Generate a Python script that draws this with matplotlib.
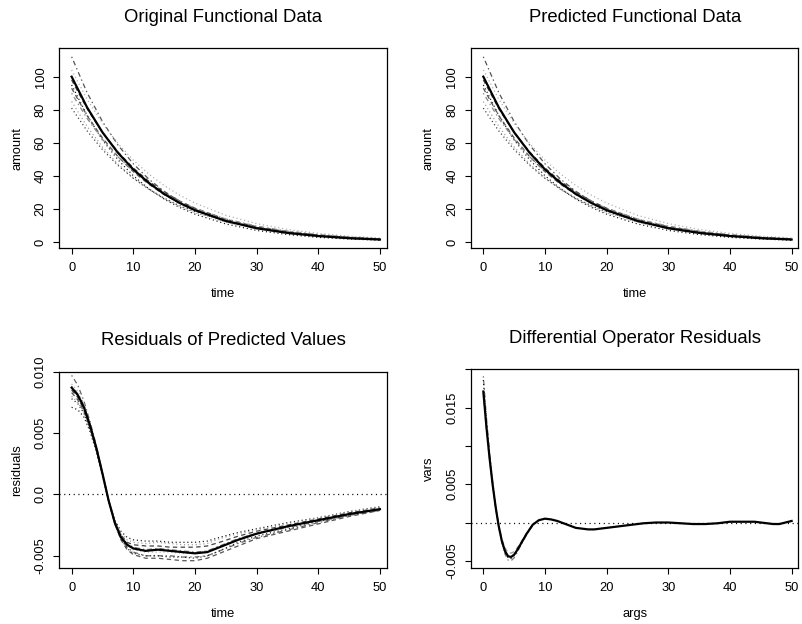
import matplotlib
matplotlib.use('Agg')
import matplotlib.pyplot as plt

plt.rcParams['font.family'] = ['Liberation Sans', 'DejaVu Sans']
plt.rcParams['lines.scale_dashes'] = False

# ---- top panels: amount vs time (original / predicted look the same at this scale)
time_grid = [0, 2.5, 5, 7.5, 10, 12.5, 15, 17.5, 20, 25, 30, 35, 40, 45, 50]
amt_a = [112, 90.4, 72.9, 58.8, 47.4, 38.2, 30.8, 24.9, 20.0, 13.0, 8.5, 5.5, 3.6, 2.3, 1.5]
amt_b = [104, 86.4, 71.9, 59.7, 49.6, 41.3, 34.3, 28.5, 23.7, 16.3, 11.3, 7.8, 5.4, 3.7, 2.6]
amt_mean = [100, 81.5, 66.4, 54.1, 44.0, 35.9, 29.2, 23.8, 19.4, 12.9, 8.5, 5.7, 3.8, 2.5, 1.7]
amt_c = [98, 80.7, 66.3, 54.6, 44.9, 36.9, 30.4, 25.0, 20.6, 13.9, 9.4, 6.4, 4.3, 2.9, 2.0]
amt_d = [95, 76.7, 61.8, 49.9, 40.2, 32.4, 26.1, 21.1, 17.0, 11.1, 7.2, 4.7, 3.0, 2.0, 1.3]
amt_e = [93, 76.5, 63.0, 51.8, 42.6, 35.1, 28.8, 23.7, 19.5, 13.2, 9.0, 6.1, 4.1, 2.8, 1.9]
amt_f = [90, 74.8, 62.2, 51.7, 42.9, 35.7, 29.7, 24.7, 20.5, 14.1, 9.8, 6.8, 4.7, 3.2, 2.2]
amt_g = [85, 70.0, 57.5, 47.3, 38.9, 32.0, 26.4, 21.7, 17.9, 12.1, 8.2, 5.5, 3.8, 2.5, 1.7]
amt_h = [81, 67.3, 56.0, 46.5, 38.6, 32.2, 26.7, 22.2, 18.5, 12.7, 8.8, 6.1, 4.2, 2.9, 2.0]

# ---- bottom left: residuals of predicted values
res_time = [0, 1, 2, 3, 4, 5, 6, 7, 8, 9, 10, 12, 14, 16, 18, 20, 22, 24, 27, 30, 35, 40, 45, 50]
res_mean = [0.0087, 0.0081, 0.0071, 0.0056, 0.0038, 0.0017, -0.0005, -0.0023, -0.0035, -0.0041, -0.0044,
            -0.0046, -0.0045, -0.0046, -0.0047, -0.0048, -0.0047, -0.0043, -0.0037, -0.0032,
            -0.0026, -0.0021, -0.0016, -0.0012]
res_1 = [0.0097, 0.0089, 0.0076, 0.0059, 0.0040, 0.0018, -0.0005, -0.0024, -0.0036, -0.0043, -0.0047,
         -0.0050, -0.0050, -0.0050, -0.0051, -0.0051, -0.0050, -0.0046, -0.0040, -0.0035,
         -0.0029, -0.0023, -0.0017, -0.0013]
res_2 = [0.0071, 0.0069, 0.0063, 0.0051, 0.0035, 0.0015, -0.0005, -0.0021, -0.0030, -0.0035, -0.0037,
         -0.0038, -0.0038, -0.0039, -0.0039, -0.0039, -0.0038, -0.0035, -0.0031, -0.0028,
         -0.0023, -0.0019, -0.0014, -0.0010]
res_3 = [0.0085, 0.0079, 0.0069, 0.0054, 0.0037, 0.0016, -0.0005, -0.0022, -0.0033, -0.0039, -0.0041,
         -0.0042, -0.0042, -0.0043, -0.0043, -0.0043, -0.0042, -0.0039, -0.0034, -0.0030,
         -0.0025, -0.0020, -0.0015, -0.0011]
res_4 = [0.0090, 0.0084, 0.0074, 0.0058, 0.0040, 0.0018, -0.0004, -0.0022, -0.0034, -0.0041, -0.0045,
         -0.0047, -0.0047, -0.0047, -0.0048, -0.0048, -0.0046, -0.0042, -0.0036, -0.0031,
         -0.0026, -0.0021, -0.0016, -0.0011]
res_5 = [0.0083, 0.0077, 0.0068, 0.0054, 0.0037, 0.0017, -0.0005, -0.0024, -0.0037, -0.0045, -0.0049,
         -0.0052, -0.0052, -0.0053, -0.0054, -0.0054, -0.0052, -0.0048, -0.0042, -0.0036,
         -0.0030, -0.0024, -0.0018, -0.0013]
res_6 = [0.0078, 0.0074, 0.0066, 0.0053, 0.0036, 0.0016, -0.0005, -0.0023, -0.0036, -0.0044, -0.0048,
         -0.0050, -0.0050, -0.0051, -0.0051, -0.0052, -0.0050, -0.0046, -0.0039, -0.0034,
         -0.0028, -0.0022, -0.0017, -0.0012]
res_7 = [0.0088, 0.0082, 0.0072, 0.0057, 0.0039, 0.0017, -0.0005, -0.0023, -0.0034, -0.0040, -0.0043,
         -0.0045, -0.0044, -0.0045, -0.0046, -0.0047, -0.0046, -0.0042, -0.0036, -0.0032,
         -0.0027, -0.0022, -0.0017, -0.0012]
res_8 = [0.0080, 0.0075, 0.0067, 0.0053, 0.0036, 0.0016, -0.0005, -0.0022, -0.0032, -0.0037, -0.0039,
         -0.0040, -0.0039, -0.0040, -0.0041, -0.0041, -0.0040, -0.0036, -0.0032, -0.0029,
         -0.0024, -0.0019, -0.0014, -0.0010]

# ---- bottom right: differential operator residuals
dv_args = [0, 0.5, 1, 1.5, 2, 2.5, 3, 3.5, 4, 4.5, 5, 5.5, 6, 7, 8, 9, 10, 11, 12, 13, 14, 15, 16, 17, 18,
           20, 22, 24, 26, 28, 30, 32, 34, 36, 38, 40, 42, 44, 46, 47, 48, 50]
dv_mean = [0.0171, 0.0125, 0.0085, 0.0050, 0.0020, -0.0005, -0.0024, -0.0037, -0.0044, -0.0045, -0.0042,
           -0.0036, -0.0029, -0.0015, -0.0003, 0.0003, 0.0005, 0.0004, 0.0002, -0.0001, -0.0004, -0.0007,
           -0.0008, -0.0009, -0.0009, -0.0007, -0.0005, -0.0003, -0.0001, 0.0000, 0.0000, -0.0001, -0.0002,
           -0.0002, -0.0001, 0.0001, 0.0001, 0.0001, -0.0001, -0.0002, -0.0002, 0.0002]
# the other curves only separate from the mean before t = 8
dv_a = [0.0191, 0.0138, 0.0092, 0.0054, 0.0022, -0.0005, -0.0026, -0.0041, -0.0049, -0.0050, -0.0046,
        -0.0039, -0.0031, -0.0016, -0.0004]
dv_b = [0.0186, 0.0132, 0.0088, 0.0051, 0.0020, -0.0006, -0.0025, -0.0039, -0.0046, -0.0047, -0.0043,
        -0.0037, -0.0030, -0.0015, -0.0003]
dv_c = [0.0168, 0.0122, 0.0083, 0.0049, 0.0019, -0.0004, -0.0021, -0.0033, -0.0039, -0.0040, -0.0038,
        -0.0033, -0.0027, -0.0014, -0.0003]

DOTDASH = (1, 2.2, 3.5, 2.2)
DOT = (0.8, 2.0)
DASH = (3.2, 2.4)

amt_curves = [(amt_a, '#555555', DOTDASH), (amt_b, '#aaaaaa', DOT), (amt_c, '#444444', DASH),
              (amt_d, '#111111', DOT), (amt_e, '#555555', DASH), (amt_f, '#888888', DOTDASH),
              (amt_g, '#999999', DOT), (amt_h, '#333333', DOT)]
res_curves = [(res_1, '#666666', DOTDASH), (res_2, '#111111', DOT), (res_3, '#444444', DASH),
              (res_4, '#aaaaaa', DOT), (res_5, '#555555', DASH), (res_6, '#222222', DOT),
              (res_7, '#777777', DOTDASH), (res_8, '#999999', DOT)]
dv_curves = [(dv_a, '#777777', DOTDASH), (dv_b, '#111111', DOT), (dv_c, '#999999', DASH)]

TITLE_FS = 13.3
FS = 9.3

fig = plt.figure(figsize=(8.03, 6.24), dpi=100)
W, H = 803.0, 624.0


def make_axes(left, top, right, bottom):
    return fig.add_axes([left / W, 1 - bottom / H, (right - left) / W, (bottom - top) / H])


def style(ax, title, xlabel, ylabel):
    ax.set_title(title, fontsize=TITLE_FS, pad=19)
    ax.set_xlim(-2.0, 51.1)
    ax.set_xticks([0, 10, 20, 30, 40, 50])
    ax.tick_params(direction='out', length=4, width=0.8, labelsize=FS, pad=6)
    ax.tick_params(axis='y', pad=5)
    for s in ax.spines.values():
        s.set_linewidth(0.9)
    for lbl in ax.get_yticklabels():
        lbl.set_rotation(90)
        lbl.set_va('center')
    ax.set_xlabel(xlabel, fontsize=FS)
    ax.set_ylabel(ylabel, fontsize=FS)
    ax.xaxis.set_label_coords(0.5, -46.0 / ((ax.get_position().height) * H))
    ax.xaxis.label.set_va('center')
    ax.yaxis.set_label_coords(-42.0 / ((ax.get_position().width) * W), 0.5)
    ax.yaxis.label.set_va('center')


# top left / top right
for left, right, title in [(59.3, 386.7, 'Original Functional Data'),
                           (471.0, 798.4, 'Predicted Functional Data')]:
    ax = make_axes(left, 48, right, 248.3)
    for vals, col, dsh in amt_curves:
        ax.plot(time_grid, vals, color=col, lw=0.9, dashes=dsh)
    ax.plot(time_grid, amt_mean, color='black', lw=1.6)
    ax.set_ylim(-3.6, 117.3)
    ax.set_yticks([0, 20, 40, 60, 80, 100])
    ax.set_yticklabels(['0', '20', '40', '60', '80', '100'])
    style(ax, title, 'time', 'amount')

# bottom left
ax = make_axes(59.3, 371.7, 386.7, 567.7)
ax.axhline(0, color='black', lw=0.9, dashes=(0.8, 2.6))
for vals, col, dsh in res_curves:
    ax.plot(res_time, vals, color=col, lw=0.9, dashes=dsh)
ax.plot(res_time, res_mean, color='black', lw=1.6)
ax.set_ylim(-0.00597, 0.00997)
ax.set_yticks([-0.005, 0.0, 0.005, 0.010])
ax.set_yticklabels(['-0.005', '0.0', '0.005', '0.010'])
style(ax, 'Residuals of Predicted Values', 'time', 'residuals')

# bottom right
ax = make_axes(471.0, 369.3, 798.4, 567.7)
ax.axhline(0, color='black', lw=0.9, dashes=(0.8, 2.6))
for vals, col, dsh in dv_curves:
    ax.plot(dv_args[:len(vals)], vals, color=col, lw=0.9, dashes=dsh)
ax.plot(dv_args, dv_mean, color='black', lw=1.6)
ax.set_ylim(-0.0059, 0.0200)
ax.set_yticks([-0.005, 0.0, 0.005, 0.010, 0.015, 0.020])
ax.set_yticklabels(['-0.005', '', '0.005', '', '0.015', ''])
style(ax, 'Differential Operator Residuals', 'args', 'vars')

plt.savefig('out.png', dpi=100)
plt.close()
